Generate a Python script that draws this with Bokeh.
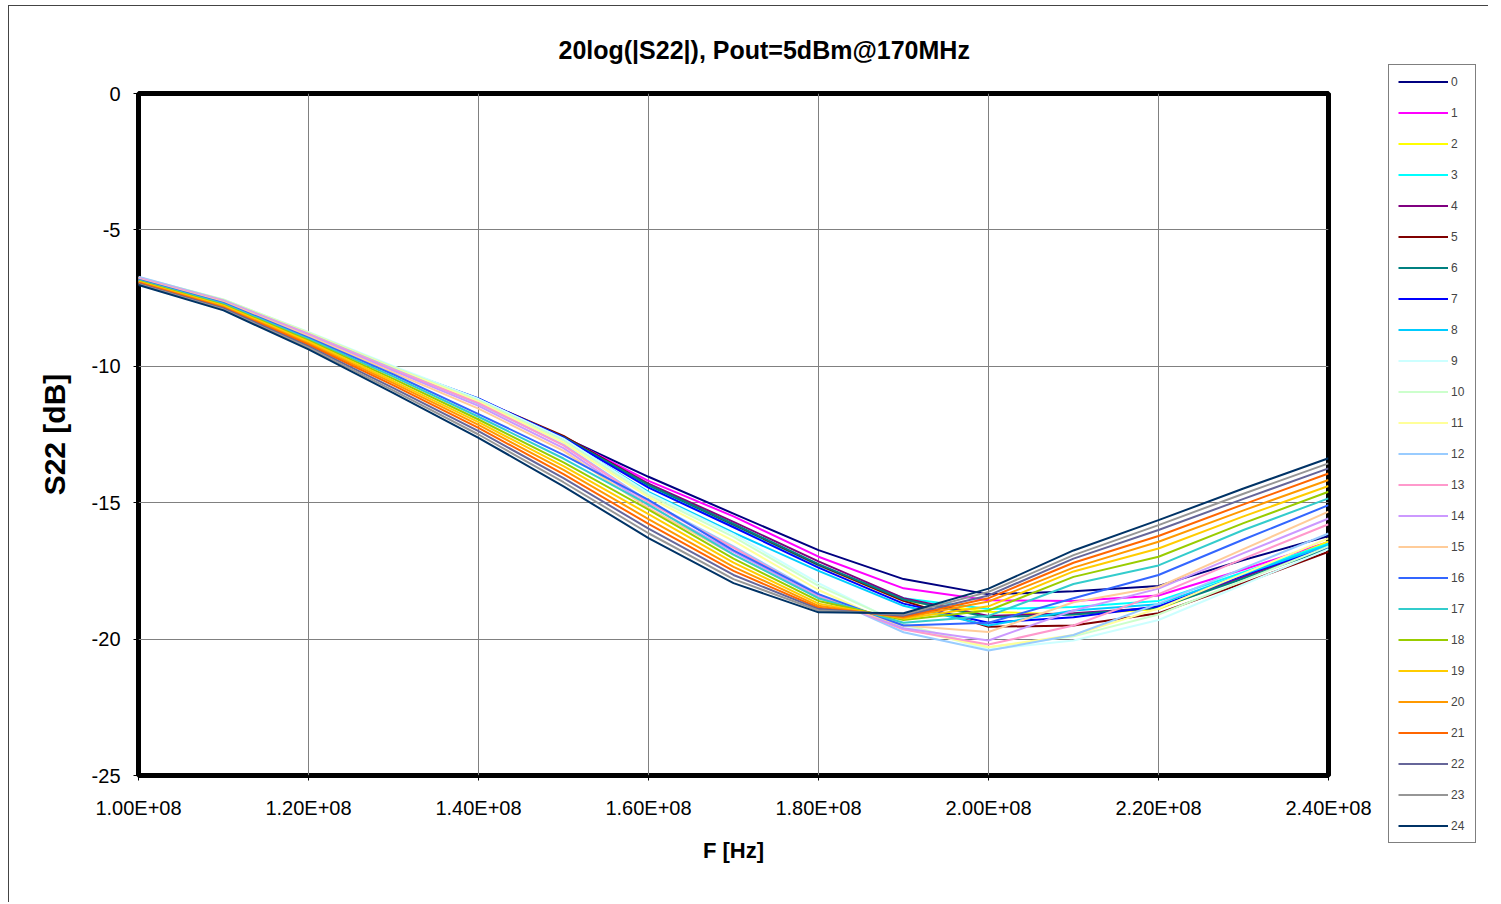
from bokeh.plotting import figure
from bokeh.layouts import row
from bokeh.models import Legend, LegendItem, FixedTicker, CustomJSTickFormatter, Range1d
from bokeh.embed import file_html
from bokeh.resources import INLINE

# ---------------- data ----------------
freq_hz = [100e6, 110e6, 120e6, 130e6, 140e6, 150e6, 160e6, 170e6,
           180e6, 190e6, 200e6, 210e6, 220e6, 230e6, 240e6]

s22_00 = [-6.90, -7.72, -8.90, -10.12, -11.30, -12.60, -14.05, -15.40, -16.74, -17.80, -18.36, -18.25, -18.05, -17.10, -16.22]
s22_01 = [-6.88, -7.70, -8.88, -10.10, -11.28, -12.60, -14.20, -15.50, -16.98, -18.14, -18.58, -18.60, -18.40, -17.45, -16.44]
s22_02 = [-6.86, -7.69, -8.87, -10.08, -11.25, -12.58, -14.35, -15.80, -17.30, -18.60, -19.00, -19.10, -18.90, -17.70, -16.42]
s22_03 = [-6.85, -7.68, -8.86, -10.06, -11.22, -12.62, -14.40, -15.85, -17.30, -18.50, -18.90, -18.82, -18.60, -17.55, -16.50]
s22_04 = [-6.87, -7.70, -8.88, -10.08, -11.25, -12.58, -14.30, -15.70, -17.15, -18.50, -19.15, -19.05, -18.85, -17.72, -16.60]
s22_05 = [-6.86, -7.69, -8.86, -10.05, -11.22, -12.55, -14.35, -15.80, -17.28, -18.60, -19.55, -19.50, -19.05, -17.95, -16.80]
s22_06 = [-6.87, -7.70, -8.87, -10.07, -11.22, -12.60, -14.35, -15.78, -17.25, -18.55, -19.20, -19.10, -18.85, -17.78, -16.68]
s22_07 = [-6.86, -7.68, -8.86, -10.05, -11.18, -12.62, -14.45, -15.90, -17.38, -18.70, -19.40, -19.20, -18.80, -17.65, -16.62]
s22_08 = [-6.85, -7.68, -8.85, -10.05, -11.20, -12.68, -14.60, -16.10, -17.50, -18.78, -19.50, -18.95, -18.72, -17.62, -16.55]
s22_09 = [-6.75, -7.56, -8.74, -10.00, -11.20, -12.65, -14.65, -16.15, -17.95, -19.50, -20.38, -20.05, -19.30, -18.00, -16.70]
s22_10 = [-6.73, -7.55, -8.76, -10.03, -11.25, -12.72, -14.72, -16.25, -18.05, -19.45, -20.30, -19.90, -19.10, -17.85, -16.60]
s22_11 = [-6.74, -7.57, -8.78, -10.06, -11.30, -12.80, -14.80, -16.40, -18.20, -19.60, -20.30, -19.85, -18.88, -17.60, -16.31]
s22_12 = [-6.72, -7.58, -8.80, -10.10, -11.38, -12.88, -14.95, -16.60, -18.35, -19.75, -20.42, -19.85, -18.70, -17.40, -16.13]
s22_13 = [-6.76, -7.60, -8.82, -10.12, -11.35, -12.90, -15.00, -16.65, -18.40, -19.65, -20.20, -19.50, -18.35, -17.05, -15.79]
s22_14 = [-6.78, -7.62, -8.86, -10.17, -11.45, -13.00, -15.10, -16.80, -18.45, -19.60, -20.05, -18.95, -18.15, -16.85, -15.58]
s22_15 = [-6.80, -7.64, -8.90, -10.23, -11.55, -13.10, -15.20, -16.90, -18.50, -19.50, -19.74, -18.65, -18.09, -16.70, -15.33]
s22_16 = [-6.83, -7.68, -8.95, -10.30, -11.75, -13.25, -14.90, -16.75, -18.35, -19.50, -19.40, -18.50, -17.65, -16.35, -15.09]
s22_17 = [-6.85, -7.71, -9.00, -10.38, -11.85, -13.38, -15.07, -16.90, -18.50, -19.40, -19.15, -17.98, -17.30, -16.00, -14.84]
s22_18 = [-6.87, -7.75, -9.05, -10.46, -11.95, -13.52, -15.25, -17.05, -18.60, -19.30, -18.95, -17.72, -16.98, -15.75, -14.60]
s22_19 = [-6.90, -7.78, -9.10, -10.54, -12.05, -13.66, -15.42, -17.20, -18.70, -19.25, -18.80, -17.52, -16.68, -15.50, -14.39]
s22_20 = [-6.92, -7.82, -9.16, -10.62, -12.15, -13.80, -15.60, -17.35, -18.78, -19.22, -18.62, -17.38, -16.43, -15.28, -14.17]
s22_21 = [-6.94, -7.85, -9.21, -10.70, -12.26, -13.95, -15.78, -17.50, -18.85, -19.18, -18.50, -17.20, -16.22, -15.06, -13.93]
s22_22 = [-6.97, -7.88, -9.27, -10.80, -12.38, -14.10, -15.95, -17.65, -18.90, -19.14, -18.40, -17.05, -16.00, -14.86, -13.74]
s22_23 = [-6.99, -7.92, -9.32, -10.89, -12.50, -14.25, -16.12, -17.80, -18.95, -19.10, -18.27, -16.92, -15.82, -14.67, -13.56]
s22_24 = [-7.02, -7.95, -9.38, -10.98, -12.62, -14.40, -16.30, -17.95, -19.02, -19.05, -18.15, -16.75, -15.64, -14.48, -13.37]

series_labels = [str(i) for i in range(25)]
series_values = [s22_00, s22_01, s22_02, s22_03, s22_04, s22_05, s22_06, s22_07, s22_08,
                 s22_09, s22_10, s22_11, s22_12, s22_13, s22_14, s22_15, s22_16, s22_17,
                 s22_18, s22_19, s22_20, s22_21, s22_22, s22_23, s22_24]
series_colors = ["#000080", "#FF00FF", "#FFFF00", "#00FFFF", "#800080", "#800000", "#008080",
                 "#0000FF", "#00CCFF", "#CCFFFF", "#CCFFCC", "#FFFF99", "#99CCFF", "#FF99CC",
                 "#CC99FF", "#FFCC99", "#3366FF", "#33CCCC", "#99CC00", "#FFCC00", "#FF9900",
                 "#FF6600", "#666699", "#969696", "#003366"]

x_ticks = [100e6, 120e6, 140e6, 160e6, 180e6, 200e6, 220e6, 240e6]
x_tick_labels = ["1.00E+08", "1.20E+08", "1.40E+08", "1.60E+08", "1.80E+08",
                 "2.00E+08", "2.20E+08", "2.40E+08"]
y_ticks = [-25, -20, -15, -10, -5, 0]
y_tick_labels = ["-25", "-20", "-15", "-10", "-5", "0"]

title_text = "20log(|S22|), Pout=5dBm@170MHz"
x_label = "F [Hz]"
y_label = "S22 [dB]"

FONT = "Liberation Sans"

# ---------------- main figure ----------------
p = figure(width=1379, height=896, output_backend="svg", toolbar_location=None,
           x_range=Range1d(100e6, 240e6), y_range=Range1d(-25, 0),
           min_border_left=129, min_border_right=60, min_border_top=87,
           min_border_bottom=127)

p.outline_line_color = "black"
p.outline_line_width = 5
p.background_fill_color = "white"
p.border_fill_color = "white"

p.title.text = title_text
p.title.text_font = FONT
p.title.text_font_size = "25px"
p.title.text_font_style = "bold"
p.title.text_color = "black"
p.title.align = "left"
p.title.vertical_align = "top"
p.title.offset = 420
p.title.standoff = 56

for g in (p.xgrid, p.ygrid):
    g.grid_line_color = "#808080"
    g.grid_line_width = 1

tick_code = """
const i = tvals.findIndex(t => Math.abs(t - tick) <= 1e-6 * Math.max(1, Math.abs(t)));
return i >= 0 ? tlabels[i] : "";
"""
p.xaxis.ticker = FixedTicker(ticks=x_ticks)
p.xaxis.formatter = CustomJSTickFormatter(args=dict(tvals=x_ticks, tlabels=x_tick_labels), code=tick_code)
p.yaxis.ticker = FixedTicker(ticks=y_ticks)
p.yaxis.formatter = CustomJSTickFormatter(args=dict(tvals=y_ticks, tlabels=y_tick_labels), code=tick_code)

for ax in (p.xaxis, p.yaxis):
    ax.axis_line_color = None
    ax.major_tick_out = 5
    ax.major_tick_in = 0
    ax.minor_tick_line_color = None
    ax.major_tick_line_color = "black"
    ax.major_label_text_font = FONT
    ax.major_label_text_font_size = "20px"
    ax.major_label_text_color = "black"
    ax.axis_label_text_font = FONT
    ax.axis_label_text_font_style = "bold"
    ax.axis_label_text_color = "black"

p.xaxis.axis_label = x_label
p.xaxis.axis_label_text_font_size = "22px"
p.xaxis.major_label_standoff = 16
p.xaxis.axis_label_standoff = 16
p.yaxis.axis_label = y_label
p.yaxis.axis_label_text_font_size = "30px"
p.yaxis.major_label_standoff = 13
p.yaxis.axis_label_standoff = 18

for vals, col in zip(series_values, series_colors):
    p.line(freq_hz, vals, line_color=col, line_width=2)

# ---------------- legend panel (separate small figure at the right) ----------------
pleg = figure(width=100, height=896, output_backend="svg", toolbar_location=None,
              x_axis_type=None, y_axis_type=None, title=None,
              x_range=Range1d(0, 1), y_range=Range1d(0, 1),
              min_border_left=0, min_border_right=0, min_border_top=0, min_border_bottom=0)
pleg.outline_line_color = None
pleg.background_fill_color = "white"
pleg.border_fill_color = "white"

# do not align the legend panel's frame with the main plot's frame
for fig in (p, pleg):
    if "frame_align" in fig.properties():
        fig.frame_align = False

leg_renderers = []
for col in series_colors:
    # legend swatch only: drawn outside the visible range of this small panel
    leg_renderers.append(pleg.line([5, 6], [5, 6], line_color=col, line_width=2))

items = [LegendItem(label=lab, renderers=[r]) for lab, r in zip(series_labels, leg_renderers)]
legend = Legend(items=items, location=(0, 59), orientation="vertical",
                glyph_width=50, glyph_height=15, label_height=15, label_width=15,
                spacing=16, padding=9, margin=0, label_standoff=3,
                label_text_font=FONT, label_text_font_size="12px",
                border_line_color="black", border_line_width=1,
                background_fill_color="white", background_fill_alpha=1.0)
pleg.add_layout(legend, "center")

lay = row(p, pleg)
lay.styles = {"margin-left": "8px", "margin-top": "5px",
              "border-left": "1px solid #444444", "border-top": "1px solid #444444"}

open("out.html", "w").write(file_html(lay, INLINE))
